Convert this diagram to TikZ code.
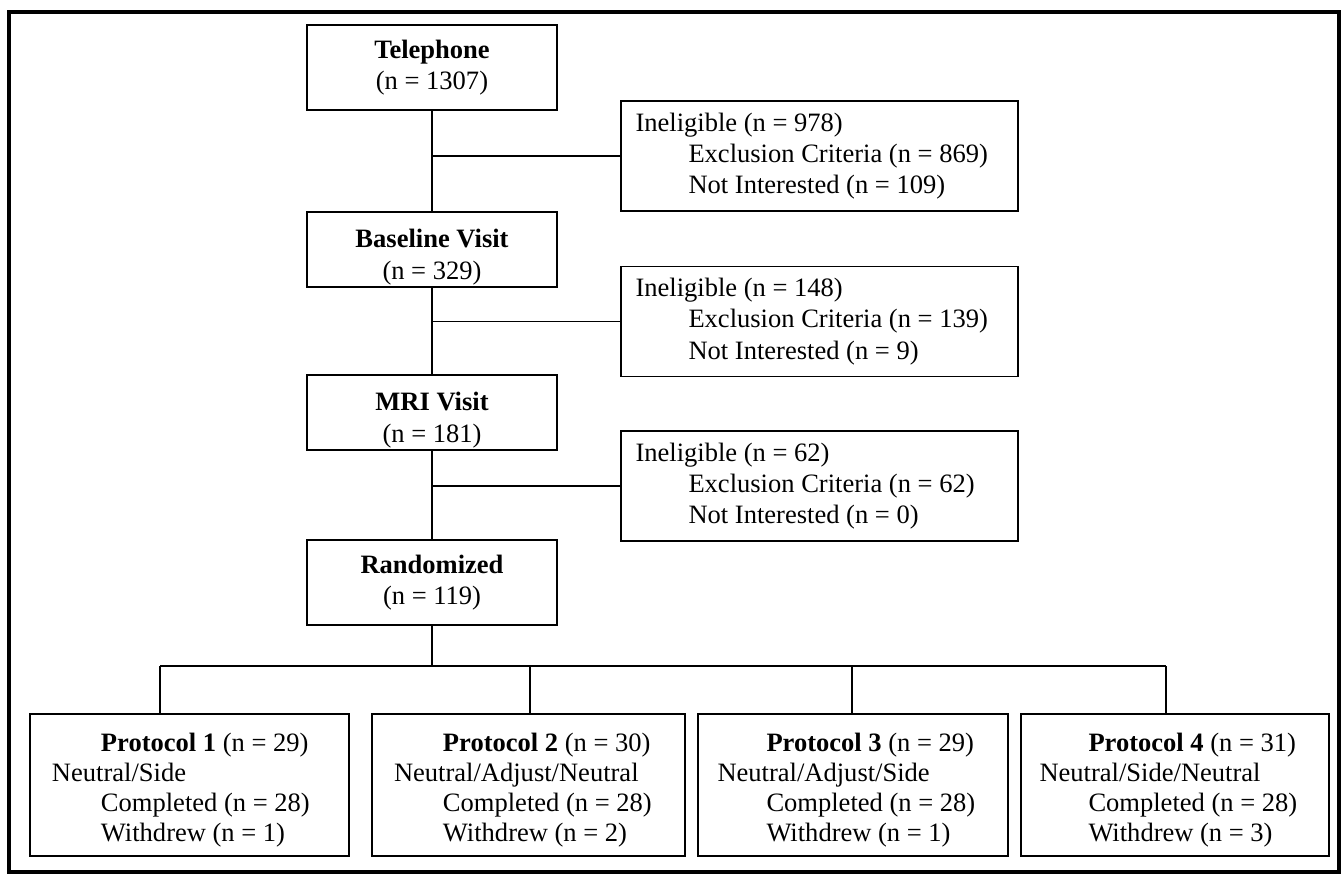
\documentclass[tikz,border=0pt]{standalone}
\usepackage{fontspec}
\setmainfont{Liberation Serif}
\usetikzlibrary{positioning}
\tikzset{
  txt/.style={font=\fontsize{15.1pt}{17.8pt}\selectfont},
  stage/.style={txt, draw, line width=1pt, minimum width=5cm, align=center},
  reason/.style={draw, line width=1pt, minimum width=7.94cm, minimum height=2.2cm},
  arm/.style={draw, line width=1pt, minimum width=#1, minimum height=2.84cm},
  lines/.style={txt, inner sep=0pt, align=left},
  armlines/.style={lines, font=\fontsize{15.1pt}{17.1pt}\selectfont, yshift=-3pt},
  link/.style={line width=0.8pt},
}
\newcommand{\subind}{\hspace*{1.06cm}}
\newcommand{\armind}{\hspace*{0.98cm}}
\begin{document}
\begin{tikzpicture}[x=0.02cm, y=-0.02cm]
\useasboundingbox (0,0) rectangle (1344,876);
% outer frame
\draw[line width=2.6pt] (9,12) rectangle (1339,872);

% Screening stages
\node[stage, minimum height=1.7cm] (tel) at (432,67.5) {\textbf{Telephone}\\(n = 1307)};
\node[stage, inner ysep=0pt, minimum height=1.5cm] (base) at (432,249.5) {\rule{0pt}{19pt}\textbf{Baseline Visit}\\(n = 329)};
\node[stage, inner ysep=0pt, minimum height=1.5cm] (mri) at (432,412.5) {\rule{0pt}{19pt}\textbf{MRI Visit}\\(n = 181)};
\node[stage, minimum height=1.7cm] (rand) at (432,582.5) {\textbf{Randomized}\\(n = 119)};

% Drop-outs
\node[reason] (inel1) at (819.5,156) {};
\node[reason] (inel2) at (819.5,321.5) {};
\node[reason] (inel3) at (819.5,486) {};
\node[lines, right=0.3cm of inel1.west] (inel1txt) {Ineligible (n = 978)\\\subind Exclusion Criteria (n = 869)\\\subind Not Interested (n = 109)};
\node[lines, right=0.3cm of inel2.west] (inel2txt) {Ineligible (n = 148)\\\subind Exclusion Criteria (n = 139)\\\subind Not Interested (n = 9)};
\node[lines, right=0.3cm of inel3.west] (inel3txt) {Ineligible (n = 62)\\\subind Exclusion Criteria (n = 62)\\\subind Not Interested (n = 0)};

\draw[link] (tel) -- (base);
\draw[link] (base) -- (mri);
\draw[link] (mri) -- (rand);
\draw[link] (inel1.west) -- (inel1.west -| tel.south);
\draw[link] (inel2.west) -- (inel2.west -| base.south);
\draw[link] (inel3.west) -- (inel3.west -| mri.south);

% Protocol arms
\node[arm=6.38cm] (p1) at (189.5,785) {};
\node[arm=6.26cm] (p2) at (528.5,785) {};
\node[arm=6.2cm] (p3) at (853,785) {};
\node[arm=6.16cm] (p4) at (1175,785) {};
\node[armlines, right=0.45cm of p1.west] (p1txt) {\armind\textbf{Protocol 1} (n = 29)\\Neutral/Side\\\armind Completed (n = 28)\\\armind Withdrew (n = 1)};
\node[armlines, right=0.45cm of p2.west] (p2txt) {\armind\textbf{Protocol 2} (n = 30)\\Neutral/Adjust/Neutral\\\armind Completed (n = 28)\\\armind Withdrew (n = 2)};
\node[armlines, right=0.4cm of p3.west] (p3txt) {\armind\textbf{Protocol 3} (n = 29)\\Neutral/Adjust/Side\\\armind Completed (n = 28)\\\armind Withdrew (n = 1)};
\node[armlines, right=0.38cm of p4.west] (p4txt) {\armind\textbf{Protocol 4} (n = 31)\\Neutral/Side/Neutral\\\armind Completed (n = 28)\\\armind Withdrew (n = 3)};

\coordinate (b1) at (160,666);
\coordinate (b2) at (530,666);
\coordinate (b3) at (852,666);
\coordinate (b4) at (1166,666);
\draw[link] (rand) -- (rand |- b1);
\draw[link] (b1) -- (b4);
\foreach \b/\p in {b1/p1, b2/p2, b3/p3, b4/p4} {
  \draw[link] (\b) -- (\b |- \p.north);
}
\end{tikzpicture}
\end{document}
